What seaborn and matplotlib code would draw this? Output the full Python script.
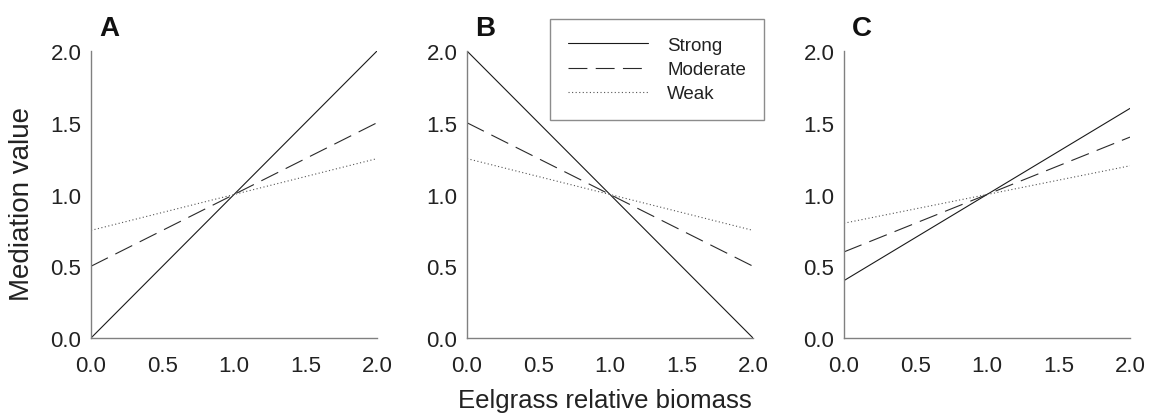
import matplotlib
matplotlib.use("Agg")
import matplotlib.pyplot as plt
import seaborn as sns
import pandas as pd

# --- data ---
biomass = [0.0, 2.0]
strengths = ["Strong", "Moderate", "Weak"]
panel_a = {"Strong": [0.0, 2.0], "Moderate": [0.5, 1.5], "Weak": [0.75, 1.25]}
panel_b = {"Strong": [2.0, 0.0], "Moderate": [1.5, 0.5], "Weak": [1.25, 0.75]}
panel_c = {"Strong": [0.4, 1.6], "Moderate": [0.6, 1.4], "Weak": [0.8, 1.2]}
ticks = [0.0, 0.5, 1.0, 1.5, 2.0]
tick_labels = ["0.0", "0.5", "1.0", "1.5", "2.0"]

styles = {
    "Strong": dict(color="#1a1a1a", linestyle="-", linewidth=0.8),
    "Moderate": dict(color="#2a2a2a", linestyle=(0, (17, 7.5)), linewidth=0.8),
    "Weak": dict(color="#555555", linestyle=(0, (1, 2.2)), linewidth=0.8),
}

sns.set_style("white")
plt.rcParams["font.family"] = ["Liberation Sans", "DejaVu Sans"]

fig = plt.figure(figsize=(11.49, 4.14), dpi=100)
lefts = [91, 467, 844]
axes = [fig.add_axes([l / 1149, 75 / 414, 286 / 1149, 287 / 414]) for l in lefts]

for ax, panel, letter in zip(axes, [panel_a, panel_b, panel_c], "ABC"):
    for s in strengths:
        df = pd.DataFrame({"x": biomass, "y": panel[s]})
        sns.lineplot(data=df, x="x", y="y", ax=ax, label=s, legend=False, **styles[s])
    ax.set_xlim(0, 2)
    ax.set_ylim(0, 2)
    ax.set_xticks(ticks)
    ax.set_xticklabels(tick_labels)
    ax.set_yticks(ticks)
    ax.set_yticklabels(tick_labels)
    ax.set_xlabel("")
    ax.set_ylabel("")
    sns.despine(ax=ax)
    for sp in ["left", "bottom"]:
        ax.spines[sp].set_color("#808080")
        ax.spines[sp].set_linewidth(1.0)
    ax.tick_params(axis="x", direction="in", length=4, color="#808080",
                   labelsize=16, pad=12, labelcolor="#222222")
    ax.tick_params(axis="y", direction="out", length=4, color="#808080",
                   labelsize=16, pad=3, labelcolor="#222222")
    ax.text(0.028, 1.08, letter, transform=ax.transAxes, fontsize=20,
            fontweight="bold", va="center", ha="left", color="#111111")

fig.text(22.5 / 1149, 1 - 204 / 414, "Mediation value", rotation=90,
         ha="center", va="center", fontsize=20, color="#222222")
fig.text(605 / 1149, 6 / 414, "Eelgrass relative biomass", ha="center",
         va="baseline", fontsize=18.5, color="#222222")

handles, labels = axes[1].get_legend_handles_labels()
leg = fig.legend(handles, labels, loc="upper left",
                 bbox_to_anchor=(550 / 1149, 1 - 20 / 414),
                 frameon=True, fancybox=False, fontsize=13.5,
                 handlelength=4.3, handletextpad=1.0, borderpad=0.95,
                 labelspacing=0.38, borderaxespad=0)
leg.get_frame().set_edgecolor("#707070")
leg.get_frame().set_linewidth(1.0)
for t in leg.get_texts():
    t.set_color("#222222")

plt.savefig("out.png", dpi=100)
plt.close()
